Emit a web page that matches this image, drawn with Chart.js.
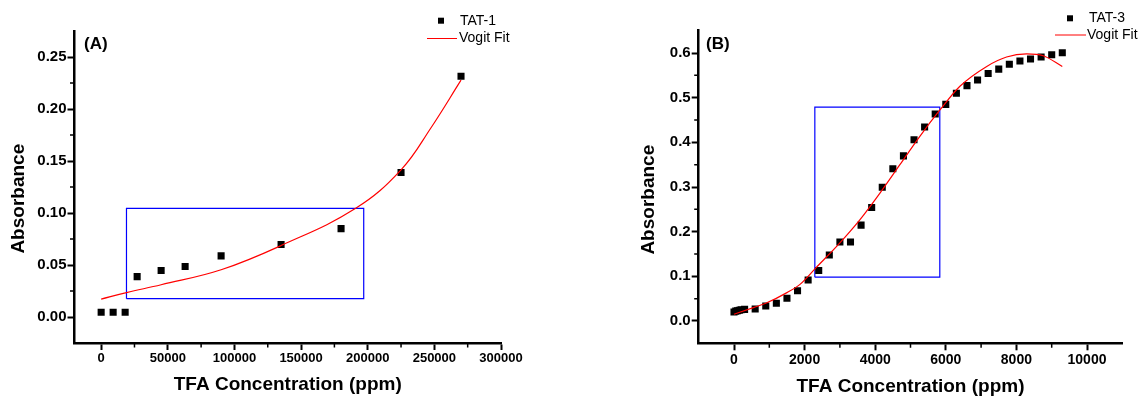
<!DOCTYPE html>
<html>
<head>
<meta charset="utf-8">
<script src="https://cdn.jsdelivr.net/npm/chart.js@4.4.1/dist/chart.umd.min.js"></script>
<style>
  html, body { margin: 0; padding: 0; background: #fff; }
  #wrap { position: relative; width: 1144px; height: 400px; overflow: hidden; }
  canvas { position: absolute; top: 0; }
  #chartA { left: 0; }
  #chartB { left: 620px; }
</style>
</head>
<body>
<div id="wrap">
  <canvas id="chartA" width="560" height="400"></canvas>
  <canvas id="chartB" width="524" height="400"></canvas>
</div>
<script>
// Panel (A) - TAT-1
const tat1X = [0, 9000, 18000, 27000, 45000, 63000, 90000, 135000, 180000, 225000, 270000];
const tat1Y = [0.0045, 0.0045, 0.0045, 0.0388, 0.0447, 0.0486, 0.0588, 0.0697, 0.085, 0.139, 0.2315];
const fitAX = [0, 19000, 45000, 90000, 135000, 191000, 225000, 247500, 270000];
const fitAY = [0.0172, 0.0235, 0.031, 0.0454, 0.0687, 0.1045, 0.1415, 0.182, 0.2277];
const boxAX = [19000, 197000];
const boxAY = [0.0176, 0.1045];
const xTicksA = [0, 50000, 100000, 150000, 200000, 250000, 300000];
const yTicksA = [0, 0.05, 0.10, 0.15, 0.20, 0.25];

// Panel (B) - TAT-3
const tat3X = [0, 50, 100, 150, 200, 300, 600, 900, 1200, 1500, 1800, 2100, 2400, 2700, 3000, 3300,
  3600, 3900, 4200, 4500, 4800, 5100, 5400, 5700, 6000, 6300, 6600, 6900, 7200, 7500, 7800, 8100,
  8400, 8700, 9000, 9300];
const tat3Y = [0.020, 0.022, 0.023, 0.024, 0.025, 0.026, 0.027, 0.0335, 0.0395, 0.0507, 0.0678, 0.0917,
  0.113, 0.1476, 0.177, 0.177, 0.2147, 0.254, 0.2996, 0.341, 0.3697, 0.406, 0.4345, 0.4636, 0.485,
  0.51, 0.527, 0.5396, 0.554, 0.564, 0.5747, 0.582, 0.5866, 0.591, 0.596, 0.6007];
const fitBX = [0, 550, 900, 1500, 1870, 2320, 3000, 3570, 4140, 4700, 5270, 5840, 6400, 7160, 7720, 8290, 8760, 9300];
const fitBY = [0.015, 0.030, 0.0396, 0.0635, 0.082, 0.119, 0.175, 0.227, 0.287, 0.350, 0.414, 0.473,
  0.5255, 0.570, 0.591, 0.598, 0.594, 0.570];
const boxBX = [2290, 5830];
const boxBY = [0.098, 0.479];
const xTicksB = [0, 2000, 4000, 6000, 8000, 10000];
const yTicksB = [0, 0.1, 0.2, 0.3, 0.4, 0.5, 0.6];

Chart.defaults.font.family = '"Liberation Sans", Arial, sans-serif';
Chart.defaults.color = '#000';

const toPoints = (xs, ys) => xs.map((x, i) => ({ x: x, y: ys[i] }));
const boxPoints = (bx, by) => toPoints([bx[0], bx[1], bx[1], bx[0], bx[0]], [by[0], by[0], by[1], by[1], by[0]]);

// Minor ticks, legend, panel label and y title
const panelDecor = {
    id: 'panelDecor',
    afterDraw(chart, args, o) {
        const ctx = chart.ctx;
        const sx = chart.scales.x, sy = chart.scales.y;
        ctx.save();

        // minor ticks (odd multiples of half the major step)
        ctx.strokeStyle = '#000';
        ctx.lineWidth = 1.5;
        ctx.beginPath();
        for (let k = Math.ceil(sx.min / o.minorX); k * o.minorX < sx.max; k++) {
            const v = k * o.minorX;
            if (k % 2 === 0 || v <= sx.min) continue;
            const px = sx.getPixelForValue(v);
            ctx.moveTo(px, sx.top);
            ctx.lineTo(px, sx.top + 4.5);
        }
        for (let k = Math.ceil(sy.min / o.minorY - 1e-9); k * o.minorY < sy.max - 1e-9; k++) {
            const v = k * o.minorY;
            if (Math.abs(k % 2) === 0 || v <= sy.min + 1e-9) continue;
            const py = sy.getPixelForValue(v);
            ctx.moveTo(sy.right - 4.5, py);
            ctx.lineTo(sy.right, py);
        }
        ctx.stroke();

        // legend
        const pts = chart.data.datasets[1], fit = chart.data.datasets[0];
        ctx.font = o.legendSize + 'px "Liberation Sans"';
        ctx.textBaseline = 'middle';
        ctx.textAlign = 'left';
        ctx.fillStyle = pts.backgroundColor;
        ctx.fillRect(o.markX - 3, o.row1 - 3, 6, 6);
        ctx.fillStyle = '#000';
        ctx.fillText(pts.label, o.textX, o.row1);
        ctx.strokeStyle = fit.borderColor;
        ctx.lineWidth = 1;
        ctx.beginPath();
        ctx.moveTo(o.lineX0, o.row2);
        ctx.lineTo(o.lineX1, o.row2);
        ctx.stroke();
        ctx.fillText(fit.label, o.textX2, o.row2);

        // panel label
        ctx.font = 'bold 17px "Liberation Sans"';
        ctx.fillText(o.label, o.labelX, o.labelY);

        // y axis title
        ctx.translate(o.titleX, o.titleY);
        ctx.rotate(-Math.PI / 2);
        ctx.textAlign = 'center';
        ctx.font = 'bold 19px "Liberation Sans"';
        ctx.fillText(o.yTitle, 0, 0);
        ctx.restore();
    }
};

function buildPanel(id, p) {
    return new Chart(document.getElementById(id), {
        type: 'scatter',
        data: {
            datasets: [
                {
                    label: 'Vogit Fit',
                    data: toPoints(p.fitX, p.fitY),
                    showLine: true,
                    borderColor: '#ff0000',
                    borderWidth: 1.2,
                    pointRadius: 0,
                    cubicInterpolationMode: p.curveMode,
                    tension: 0.4,
                    order: 0
                },
                {
                    label: p.name,
                    data: toPoints(p.ptsX, p.ptsY),
                    pointStyle: 'rect',
                    pointRadius: 5,
                    borderWidth: 0,
                    backgroundColor: '#000',
                    order: 1
                },
                {
                    label: 'box',
                    data: boxPoints(p.boxX, p.boxY),
                    showLine: true,
                    borderColor: '#0000ff',
                    borderWidth: 1.2,
                    pointRadius: 0,
                    tension: 0,
                    order: 2
                }
            ]
        },
        options: {
            responsive: false,
            animation: false,
            events: [],
            layout: { padding: { left: 0, top: p.top, right: p.right, bottom: 0 } },
            plugins: {
                legend: { display: false },
                tooltip: { enabled: false },
                panelDecor: p.decor
            },
            scales: {
                x: {
                    type: 'linear',
                    min: p.xMin,
                    max: p.xMax,
                    afterFit: s => { s.height = p.xAxisH; },
                    afterBuildTicks: s => { s.ticks = p.xTicks.map(v => ({ value: v })); },
                    ticks: {
                        autoSkip: false,
                        maxRotation: 0,
                        padding: 1,
                        color: '#000',
                        font: { size: p.xFont, weight: 'bold' },
                        callback: v => String(v)
                    },
                    grid: { drawOnChartArea: false, tickLength: 7, tickWidth: 2, tickColor: '#000' },
                    border: { color: '#000', width: 2.5 },
                    title: {
                        display: true,
                        text: 'TFA Concentration (ppm)',
                        color: '#000',
                        font: { size: 19, weight: 'bold' },
                        padding: { top: 0, bottom: p.xTitlePad }
                    }
                },
                y: {
                    type: 'linear',
                    min: p.yMin,
                    max: p.yMax,
                    afterFit: s => { s.width = p.yAxisW; },
                    afterBuildTicks: s => { s.ticks = p.yTicks.map(v => ({ value: v })); },
                    ticks: {
                        padding: 1,
                        color: '#000',
                        font: { size: 15, weight: 'bold' },
                        callback: v => v.toFixed(p.yDec)
                    },
                    grid: { drawOnChartArea: false, tickLength: 7, tickWidth: 2, tickColor: '#000' },
                    border: { color: '#000', width: 2.5 }
                }
            }
        },
        plugins: [panelDecor]
    });
}

buildPanel('chartA', {
    name: 'TAT-1',
    ptsX: tat1X, ptsY: tat1Y, fitX: fitAX, fitY: fitAY, boxX: boxAX, boxY: boxAY,
    xTicks: xTicksA, yTicks: yTicksA, curveMode: 'default',
    xMin: -20000, xMax: 300000, yMin: -0.025, yMax: 0.275, yDec: 2,
    top: 31, right: 59, xAxisH: 57, yAxisW: 74.5, xFont: 13, xTitlePad: 4,
    decor: {
        minorX: 25000, minorY: 0.025,
        label: '(A)', labelX: 84, labelY: 44.5,
        yTitle: 'Absorbance', titleX: 18.5, titleY: 198.7,
        legendSize: 14, markX: 441, row1: 20.7, textX: 460,
        lineX0: 427, lineX1: 457, row2: 38.5, textX2: 459
    }
});

buildPanel('chartB', {
    name: 'TAT-3',
    ptsX: tat3X, ptsY: tat3Y, fitX: fitBX, fitY: fitBY, boxX: boxBX, boxY: boxBY,
    xTicks: xTicksB, yTicks: yTicksB, curveMode: 'monotone',
    xMin: -1000, xMax: 11000, yMin: -0.05, yMax: 0.65, yDec: 1,
    top: 30.7, right: 21.7, xAxisH: 56.7, yAxisW: 78.7, xFont: 14, xTitlePad: 2,
    decor: {
        minorX: 1000, minorY: 0.05,
        label: '(B)', labelX: 86, labelY: 44.5,
        yTitle: 'Absorbance', titleX: 29, titleY: 199.7,
        legendSize: 14, markX: 450, row1: 18.3, textX: 469,
        lineX0: 435, lineX1: 466, row2: 35, textX2: 467
    }
});
</script>
</body>
</html>
